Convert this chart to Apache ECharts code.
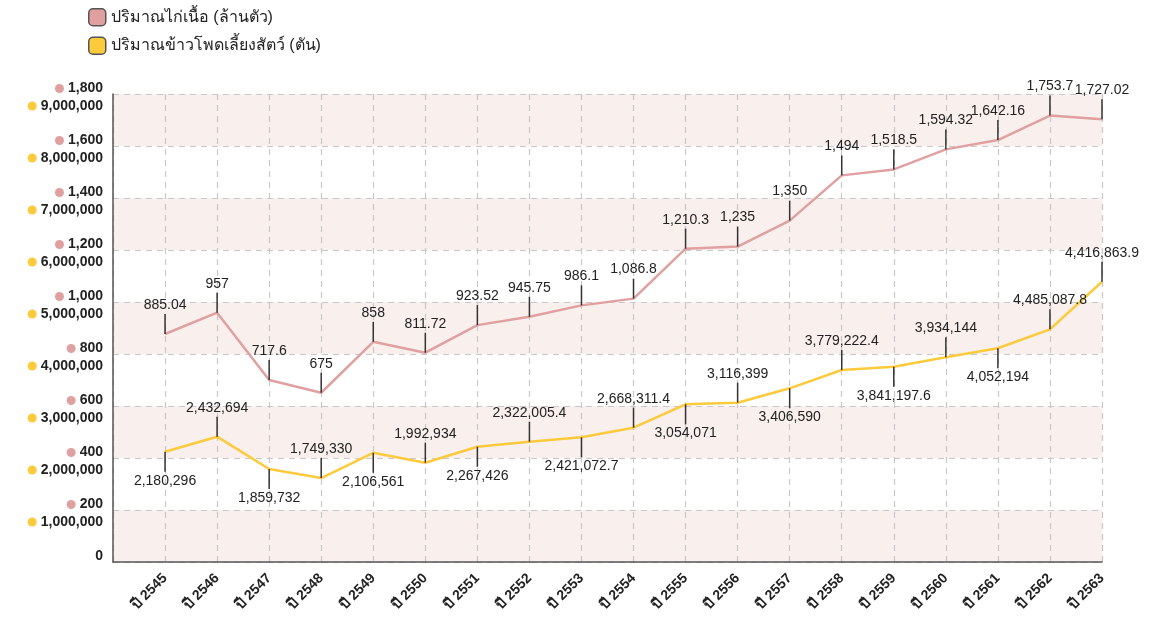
<!DOCTYPE html>
<html>
<head>
<meta charset="utf-8">
<script src="https://cdn.jsdelivr.net/npm/echarts@6/dist/echarts.min.js"></script>
<style>
  html, body { margin: 0; padding: 0; background: #fff; }
  #main { width: 1164px; height: 622px; }
</style>
</head>
<body>
<div id="main"></div>
<script>
// ปี พ.ศ.
var years = [2545, 2546, 2547, 2548, 2549, 2550, 2551, 2552, 2553, 2554, 2555, 2556, 2557, 2558, 2559, 2560, 2561, 2562, 2563];
// ปริมาณไก่เนื้อ (ล้านตัว) - ค่าตามตำแหน่งเส้น
var chickenValues = [877, 959, 700, 651, 847, 805, 911, 943, 987, 1013, 1205, 1213, 1313, 1487, 1510, 1587, 1623, 1717, 1703];
var chickenLabels = ['885.04', '957', '717.6', '675', '858', '811.72', '923.52', '945.75', '986.1', '1,086.8', '1,210.3', '1,235', '1,350', '1,494', '1,518.5', '1,594.32', '1,642.16', '1,753.7', '1,727.02'];
// ปริมาณข้าวโพดเลี้ยงสัตว์ (ตัน)
var cornValues = [2121000, 2410000, 1788000, 1615000, 2100000, 1910000, 2217000, 2313000, 2398000, 2583000, 3033000, 3064000, 3340000, 3692000, 3756000, 3936000, 4110000, 4475000, 5390000];
var cornLabels = ['2,180,296', '2,432,694', '1,859,732', '1,749,330', '2,106,561', '1,992,934', '2,267,426', '2,322,005.4', '2,421,072.7', '2,668,311.4', '3,054,071', '3,116,399', '3,406,590', '3,779,222.4', '3,841,197.6', '3,934,144', '4,052,194', '4,485,087.8', '4,416,863.9'];
var cornSide = ['bottom', 'top', 'bottom', 'top', 'bottom', 'top', 'bottom', 'top', 'bottom', 'top', 'bottom', 'top', 'bottom', 'top', 'bottom', 'top', 'bottom', 'top', 'top'];

var seriesNames = ['ปริมาณไก่เนื้อ (ล้านตัว)', 'ปริมาณข้าวโพดเลี้ยงสัตว์ (ตัน)'];
var pink = '#e0a0a0';
var yellow = '#fdca3c';
var fontF = '"Liberation Sans", Arial, "Noto Sans", sans-serif';

function fmt(n) {
  return String(n).replace(/\B(?=(\d{3})+(?!\d))/g, ',');
}

var chickenData = [];
for (var i = 0; i < years.length; i++) {
  chickenData.push({
    value: [years[i], chickenValues[i]],
    label: { formatter: chickenLabels[i] }
  });
}
var cornData = [];
for (var j = 0; j < years.length; j++) {
  var up = cornSide[j] == 'top';
  cornData.push({
    value: [years[j], cornValues[j]],
    symbolOffset: [0, up ? -10 : 10],
    label: { position: cornSide[j], formatter: cornLabels[j] }
  });
}

var chart = echarts.init(document.getElementById('main'));
var option = {
  backgroundColor: '#fff',
  animation: false,
  legend: {
    orient: 'vertical',
    left: 83,
    top: 3,
    itemWidth: 17,
    itemHeight: 17,
    itemGap: 10,
    icon: 'roundRect',
    textStyle: { fontSize: 16, color: '#222', fontFamily: fontF },
    data: [
      { name: seriesNames[0], itemStyle: { color: pink, borderColor: '#555', borderWidth: 1.5 } },
      { name: seriesNames[1], itemStyle: { color: yellow, borderColor: '#555', borderWidth: 1.5 } }
    ]
  },
  grid: { left: 113, right: 62, top: 94, bottom: 60 },
  xAxis: {
    type: 'value',
    min: 2544,
    max: 2563,
    interval: 1,
    axisLine: { show: true, lineStyle: { color: '#555', width: 1.5 } },
    axisTick: { show: false },
    splitLine: { show: true, lineStyle: { color: '#c8c8c8', type: [6, 5], width: 1.2 } },
    axisLabel: {
      rotate: 45,
      margin: 14,
      fontSize: 14,
      fontWeight: 'bold',
      color: '#222',
      fontFamily: fontF,
      formatter: function (v) { return v == 2544 ? '' : 'ปี ' + v; }
    }
  },
  yAxis: [
    {
      type: 'value',
      min: 0,
      max: 1800,
      interval: 200,
      position: 'left',
      axisLine: { show: true, lineStyle: { color: '#555', width: 1.5 } },
      axisTick: { show: false },
      splitLine: { lineStyle: { color: '#c8c8c8', type: [6, 5], width: 1.2 } },
      splitArea: { show: true, areaStyle: { color: ['#f9efed', '#ffffff'] } },
      axisLabel: {
        margin: 10,
        verticalAlign: 'bottom',
        fontSize: 14,
        fontWeight: 'bold',
        color: '#222',
        fontFamily: fontF,
        formatter: function (v) { return v == 0 ? '{t|0}' : '{d|}{t|' + fmt(v) + '}'; },
        rich: {
          d: { width: 9, height: 9, borderRadius: 4.5, backgroundColor: pink },
          t: { fontSize: 14, lineHeight: 11, fontWeight: 'bold', color: '#222', fontFamily: fontF, padding: [0, 0, 0, 4] }
        }
      }
    },
    {
      type: 'value',
      min: 0,
      max: 9000000,
      interval: 1000000,
      position: 'left',
      offset: 0,
      axisLine: { show: false },
      axisTick: { show: false },
      splitLine: { show: false },
      axisLabel: {
        margin: 10,
        verticalAlign: 'top',
        padding: [5, 0, 0, 0],
        fontSize: 14,
        fontWeight: 'bold',
        color: '#222',
        fontFamily: fontF,
        formatter: function (v) { return v == 0 ? '' : '{d|}{t|' + fmt(v) + '}'; },
        rich: {
          d: { width: 9, height: 9, borderRadius: 4.5, backgroundColor: yellow },
          t: { fontSize: 14, lineHeight: 14, fontWeight: 'bold', color: '#222', fontFamily: fontF, padding: [0, 0, 0, 4] }
        }
      }
    }
  ],
  series: [
    {
      name: seriesNames[0],
      type: 'line',
      yAxisIndex: 0,
      data: chickenData,
      lineStyle: { color: pink, width: 2.5 },
      itemStyle: { color: '#333' },
      symbol: 'rect',
      symbolSize: [1.5, 20],
      symbolOffset: [0, -10],
      showAllSymbol: true,
      label: {
        show: true,
        position: 'top',
        distance: 2,
        fontSize: 14,
        color: '#222',
        fontFamily: fontF
      },
      z: 3
    },
    {
      name: seriesNames[1],
      type: 'line',
      yAxisIndex: 1,
      data: cornData,
      lineStyle: { color: yellow, width: 2.5 },
      itemStyle: { color: '#333' },
      symbol: 'rect',
      symbolSize: [1.5, 20],
      showAllSymbol: true,
      label: {
        show: true,
        distance: 2,
        fontSize: 14,
        color: '#222',
        fontFamily: fontF
      },
      z: 3
    }
  ]
};
chart.setOption(option);
</script>
</body>
</html>
